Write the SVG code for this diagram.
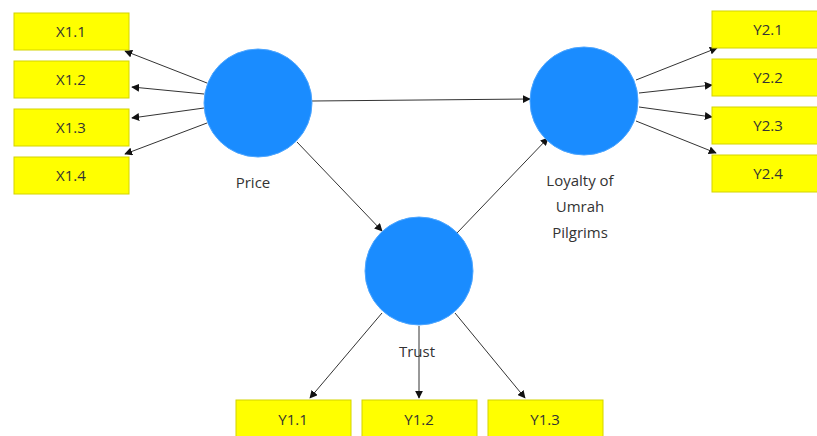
<svg xmlns="http://www.w3.org/2000/svg" width="817" height="436" viewBox="0 0 817 436">
<style>
.box{fill:#ffff00;stroke:#d4d400;stroke-width:1}
.lv{fill:#1a8cff;stroke:#4da6ff;stroke-width:1}
.t{font-family:"Open Sans","Noto Sans",sans-serif;font-size:15px;fill:#333;text-anchor:middle}
.c{stroke:#333;stroke-width:1;fill:none;marker-end:url(#ah)}
</style>
<defs>
<marker id="ah" viewBox="0 0 10 10" refX="9" refY="5" markerWidth="8" markerHeight="8" orient="auto" markerUnits="userSpaceOnUse">
<path d="M0,0 L10,5 L0,10 z" fill="#111"/>
</marker>
</defs>
<rect width="817" height="436" fill="#fff"/>
<g id="connectors">
<line class="c" x1="207" y1="83" x2="125" y2="51"/>
<line class="c" x1="204" y1="94" x2="132" y2="87"/>
<line class="c" x1="204" y1="108" x2="132" y2="118"/>
<line class="c" x1="207" y1="123" x2="125" y2="154"/>
<line class="c" x1="312" y1="101" x2="530" y2="99"/>
<line class="c" x1="297" y1="142" x2="382" y2="231"/>
<line class="c" x1="457" y1="233" x2="548" y2="138"/>
<line class="c" x1="636" y1="80" x2="717" y2="48"/>
<line class="c" x1="639" y1="93" x2="712" y2="85"/>
<line class="c" x1="639" y1="107" x2="712" y2="117"/>
<line class="c" x1="636" y1="121" x2="716" y2="153"/>
<line class="c" x1="382" y1="313" x2="310" y2="398"/>
<line class="c" x1="419" y1="326" x2="419" y2="398"/>
<line class="c" x1="455" y1="313" x2="525" y2="398"/>
</g>
<g id="X1.1"><rect class="box" x="14" y="13" width="115" height="37"/><text class="t" x="71" y="37">X1.1</text></g>
<g id="X1.2"><rect class="box" x="14" y="61" width="115" height="37"/><text class="t" x="71" y="85">X1.2</text></g>
<g id="X1.3"><rect class="box" x="14" y="109" width="115" height="37"/><text class="t" x="71" y="133">X1.3</text></g>
<g id="X1.4"><rect class="box" x="14" y="157" width="115" height="37"/><text class="t" x="71" y="181">X1.4</text></g>
<g id="Y2.1"><rect class="box" x="712" y="11" width="115" height="37"/><text class="t" x="768" y="35">Y2.1</text></g>
<g id="Y2.2"><rect class="box" x="712" y="59" width="115" height="37"/><text class="t" x="768" y="83">Y2.2</text></g>
<g id="Y2.3"><rect class="box" x="712" y="107" width="115" height="37"/><text class="t" x="768" y="131">Y2.3</text></g>
<g id="Y2.4"><rect class="box" x="712" y="155" width="115" height="37"/><text class="t" x="768" y="179">Y2.4</text></g>
<g id="Y1.1"><rect class="box" x="236" y="400" width="115" height="40"/><text class="t" x="293" y="425">Y1.1</text></g>
<g id="Y1.2"><rect class="box" x="362" y="400" width="115" height="40"/><text class="t" x="419" y="425">Y1.2</text></g>
<g id="Y1.3"><rect class="box" x="488" y="400" width="115" height="40"/><text class="t" x="545" y="425">Y1.3</text></g>
<g id="Price"><circle class="lv" cx="258" cy="103" r="54"/><text class="t" x="253" y="188">Price</text></g>
<g id="Loyalty"><circle class="lv" cx="584" cy="101" r="54"/><text class="t" x="580" y="186">Loyalty of</text><text class="t" x="580" y="212">Umrah</text><text class="t" x="580" y="238">Pilgrims</text></g>
<g id="Trust"><circle class="lv" cx="419" cy="271" r="54"/><text class="t" x="417" y="357">Trust</text></g>
</svg>
